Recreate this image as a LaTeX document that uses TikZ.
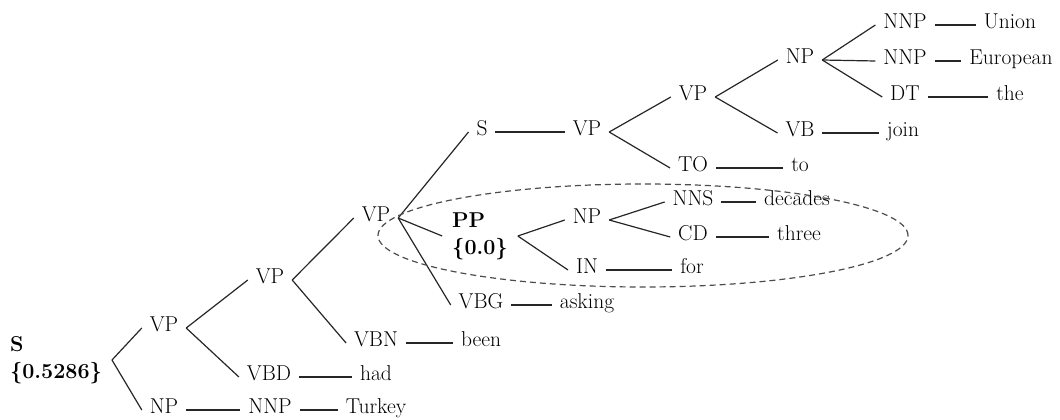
\documentclass[tikz,border=0pt]{standalone}
\begin{document}
\begin{tikzpicture}[x=1pt,y=-1pt,
  font=\fontsize{21.5}{27}\selectfont,
  lab/.style={inner xsep=8pt, inner ysep=2pt, outer sep=0pt, text height=0.683em, text depth=0pt, anchor=center},
  boldlab/.style={inner xsep=10pt, inner ysep=2pt, outer sep=0pt, align=left, anchor=center, font=\fontsize{21.5}{27}\selectfont\bfseries},
  br/.style={line width=1.2pt, draw=black!85},
  oval/.style={line width=1.2pt, draw=black!70, dash pattern=on 6pt off 4pt}]
\useasboundingbox (0,0) rectangle (1060,420);

% left part
\node[boldlab] (s0) at (56,360) {S\\\{0.5286\}};
\node[lab] (vp1) at (164,328) {VP};
\node[lab] (np1) at (164,410) {NP};
\node[lab] (nnp1) at (270,410) {NNP};
\node[lab] (turkey) at (376,410) {Turkey};
\node[lab] (vbd) at (269,377) {VBD};
\node[lab] (had) at (376,377) {had};
\node[lab] (vp2) at (270,280) {VP};
\node[lab] (vbn) at (376,343) {VBN};
\node[lab] (been) at (481,343) {been};
\node[lab] (vp3) at (376,218) {VP};
\node[boldlab] (pp) at (480,236) {PP\\\{0.0\}};
\node[lab] (vbg) at (481,305) {VBG};
\node[lab] (asking) at (587,305) {asking};

% upper branch
\node[lab] (s1) at (482,132) {S};
\node[lab] (vp4) at (587,132) {VP};
\node[lab] (vp5) at (693,97) {VP};
\node[lab] (to1) at (693,168) {TO};
\node[lab] (wto) at (800,168) {to};
\node[lab] (np3) at (800,60) {NP};
\node[lab] (vb) at (800,133) {VB};
\node[lab] (join) at (903,133) {join};
\node[lab] (nnpa) at (905,25) {NNP};
\node[lab] (union) at (1010,25) {Union};
\node[lab] (nnpb) at (905,61) {NNP};
\node[lab] (european) at (1011,61) {European};
\node[lab] (dt) at (905,97) {DT};
\node[lab] (the) at (1010,97) {the};

% PP subtree
\node[lab] (np2) at (587,220) {NP};
\node[lab] (nIN) at (587,270) {IN};
\node[lab] (for) at (692,270) {for};
\node[lab] (nns) at (693,202) {NNS};
\node[lab] (decades) at (797,202) {decades};
\node[lab] (cd) at (693,237) {CD};
\node[lab] (three) at (799,237) {three};

% connectors
\draw[br] (s0.east) -- (vp1.west);
\draw[br] (s0.east) -- (np1.west);
\draw[br] (np1.east) -- (nnp1.west);
\draw[br] (nnp1.east) -- (turkey.west);
\draw[br] (vp1.east) -- (vp2.west);
\draw[br] (vp1.east) -- (vbd.west);
\draw[br] (vbd.east) -- (had.west);
\draw[br] (vp2.east) -- (vp3.west);
\draw[br] (vp2.east) -- (vbn.west);
\draw[br] (vbn.east) -- (been.west);
\draw[br] (vp3.east) -- (s1.west);
\draw[br] (vp3.east) -- (pp.west);
\draw[br] (vp3.east) -- (vbg.west);
\draw[br] (vbg.east) -- (asking.west);
\draw[br] (s1.east) -- (vp4.west);
\draw[br] (vp4.east) -- (vp5.west);
\draw[br] (vp4.east) -- (to1.west);
\draw[br] (to1.east) -- (wto.west);
\draw[br] (vp5.east) -- (np3.west);
\draw[br] (vp5.east) -- (vb.west);
\draw[br] (vb.east) -- (join.west);
\draw[br] (np3.east) -- (nnpa.west);
\draw[br] (np3.east) -- (nnpb.west);
\draw[br] (np3.east) -- (dt.west);
\draw[br] (nnpa.east) -- (union.west);
\draw[br] (nnpb.east) -- (european.west);
\draw[br] (dt.east) -- (the.west);
\draw[br] (pp.east) -- (np2.west);
\draw[br] (pp.east) -- (nIN.west);
\draw[br] (nIN.east) -- (for.west);
\draw[br] (np2.east) -- (nns.west);
\draw[br] (np2.east) -- (cd.west);
\draw[br] (nns.east) -- (decades.west);
\draw[br] (cd.east) -- (three.west);

% highlighted region
\draw[oval] (643,235.5) ellipse [x radius=265pt, y radius=51.5pt];
\end{tikzpicture}
\end{document}
